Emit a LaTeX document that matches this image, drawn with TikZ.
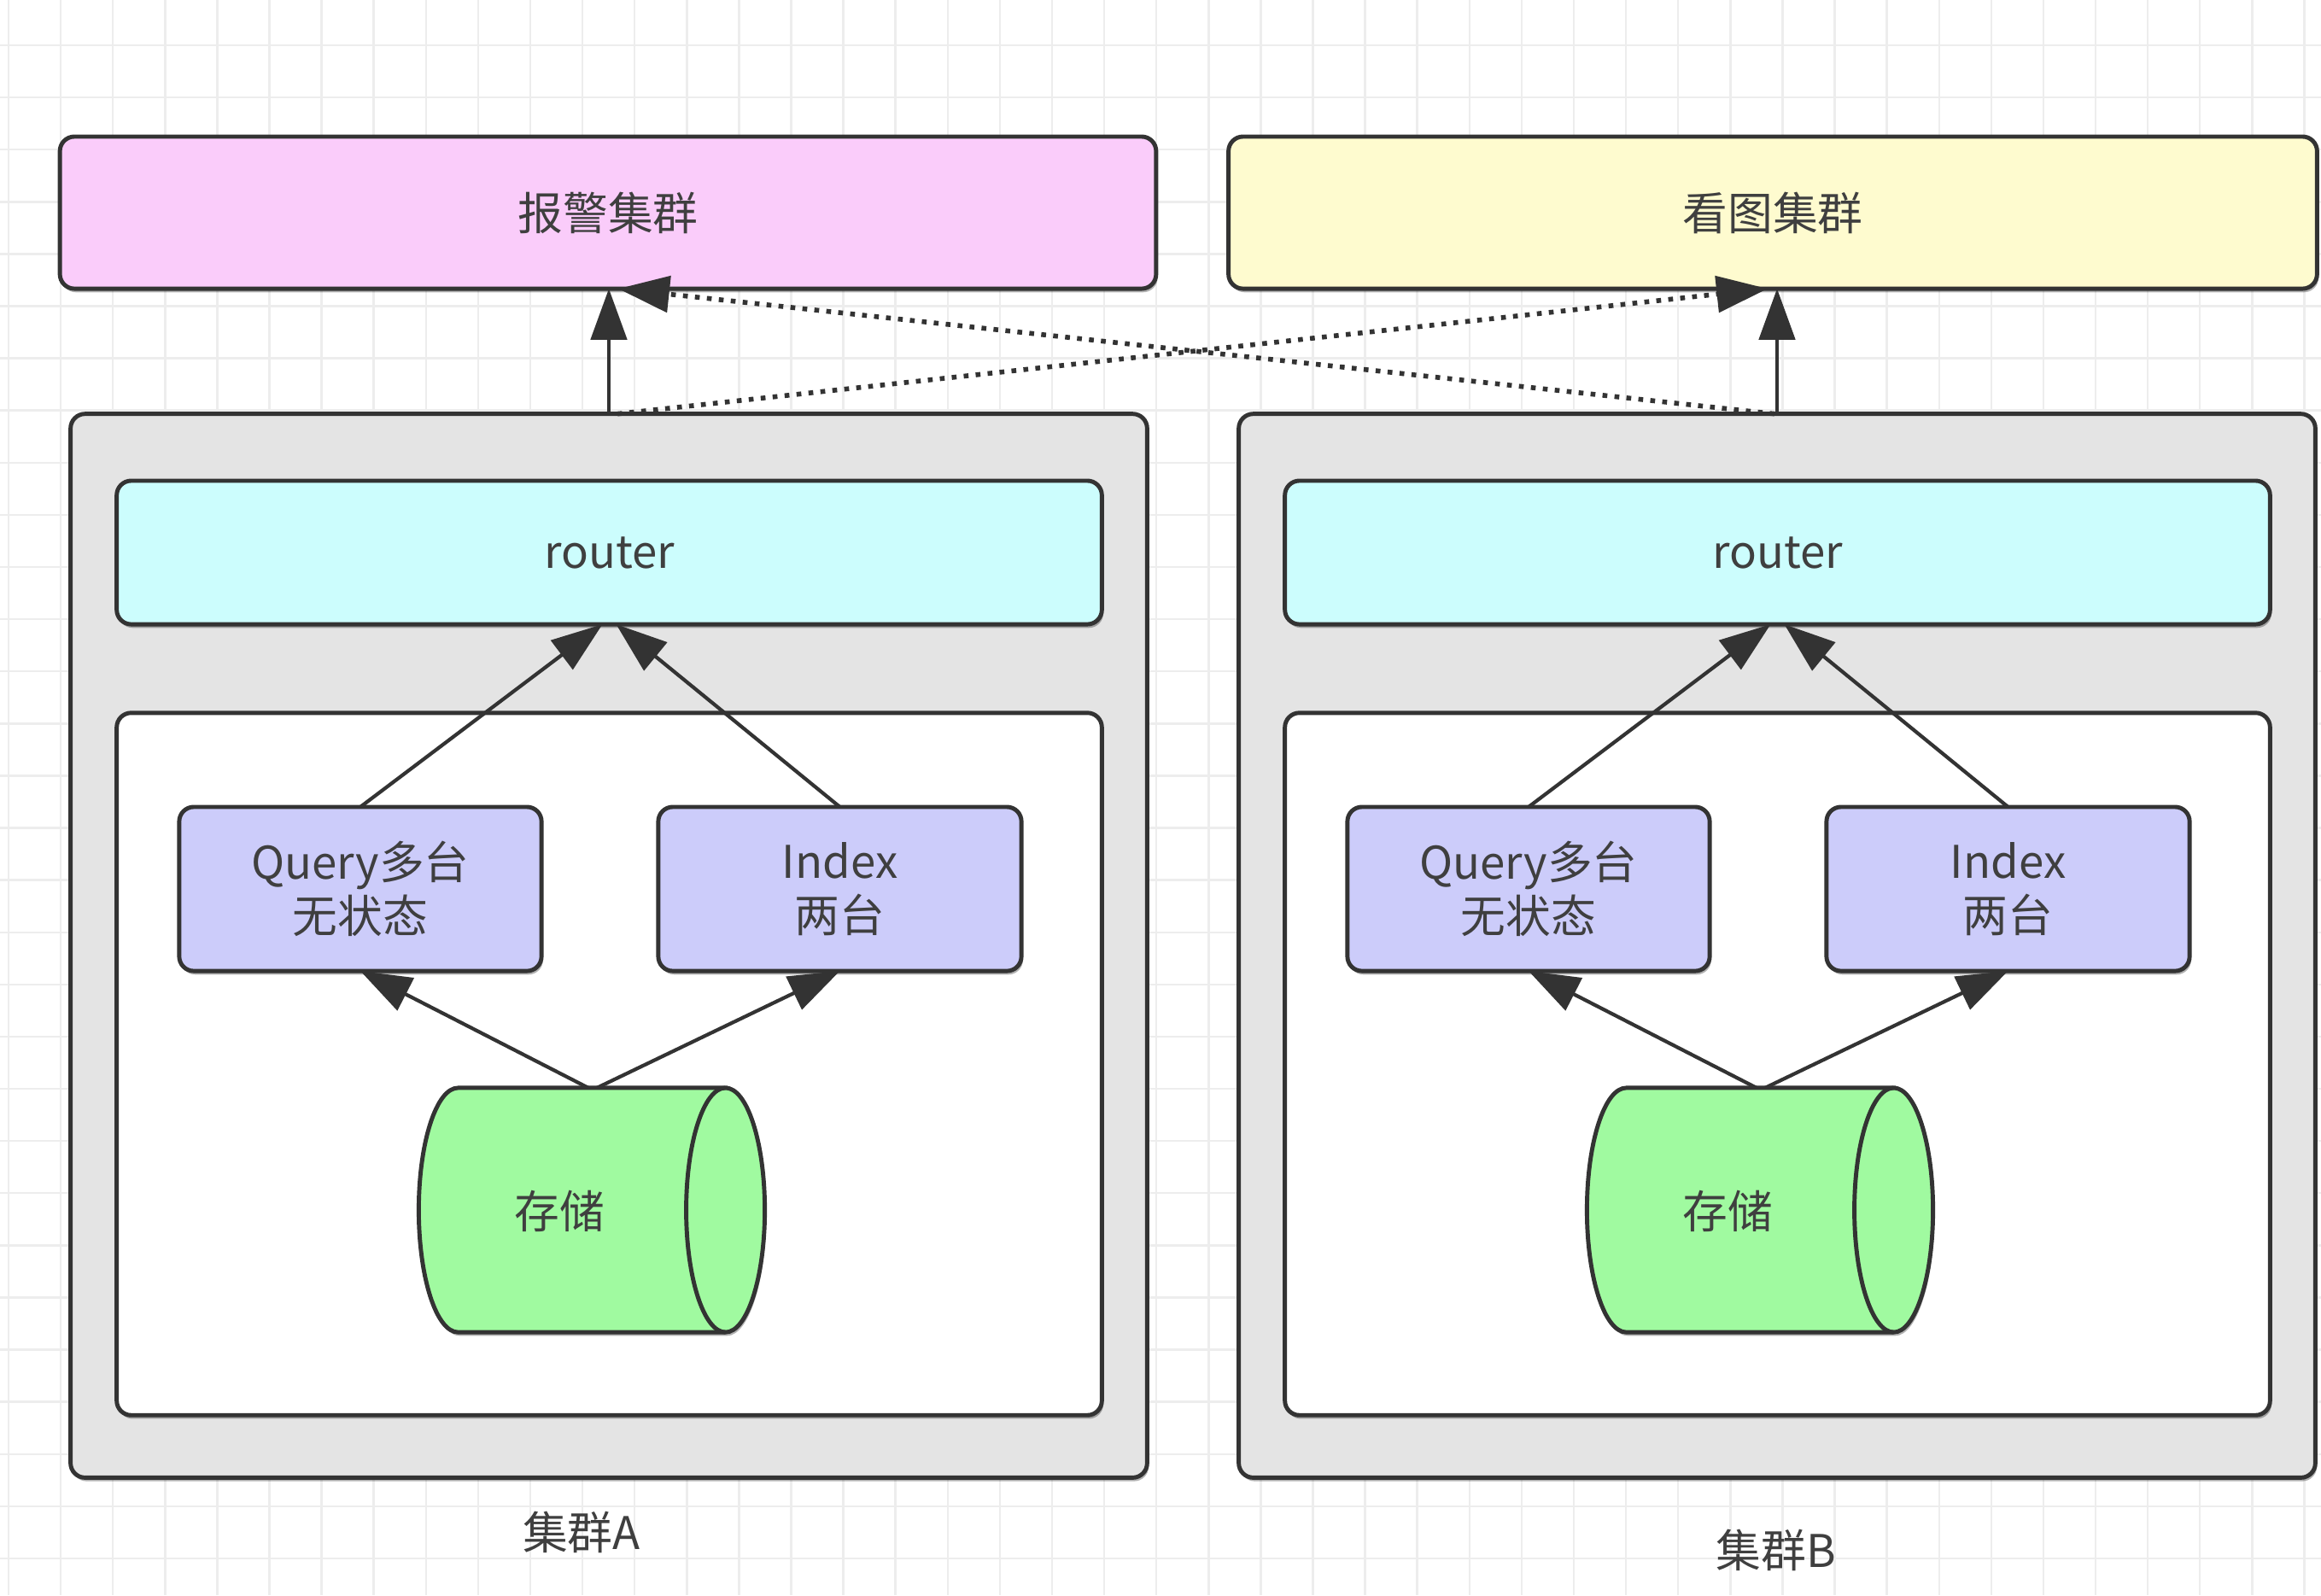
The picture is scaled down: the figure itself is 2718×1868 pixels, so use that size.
\documentclass[tikz,border=0pt]{standalone}
\usepackage{fontspec}
\setmainfont{Noto Sans CJK SC}
\usetikzlibrary{arrows.meta,shadows,calc}
\definecolor{pinkf}{HTML}{FACCFA}
\definecolor{yellowf}{HTML}{FEFBCF}
\definecolor{cyanf}{HTML}{CCFDFD}
\definecolor{grayf}{HTML}{E4E4E4}
\definecolor{lavf}{HTML}{CCCCFA}
\definecolor{greenf}{HTML}{A0FAA0}
\definecolor{strokec}{HTML}{333333}
\definecolor{textc}{HTML}{3F3F3F}
\definecolor{gridc}{HTML}{EDEDED}
\begin{document}
\begin{tikzpicture}[x=0.01cm,y=0.01cm,
  shadowed/.style={drop shadow={shadow xshift=0.5pt, shadow yshift=-1.2pt, opacity=0.3, fill=black}},
  box/.style={draw=strokec, line width=1.4pt, rounded corners=0.17cm, inner sep=0pt, outer sep=0pt,
    font=\fontsize{15}{18}\selectfont, text=textc, align=center, shadowed},
  cylst/.style={draw=strokec, fill=greenf, line width=1.4pt, shadowed},
  lbl/.style={font=\fontsize{15}{18}\selectfont, text=textc, inner sep=0pt},
  conn/.style={draw=strokec, line width=1.2pt, -{Triangle[length=17pt,width=12pt]}},
  dotconn/.style={conn, line width=1.6pt, dash pattern=on 1.6pt off 2.4pt},
]
% background and grid
\fill[white] (0,0) rectangle (2718,-1868);
\useasboundingbox (0,0) rectangle (2718,-1868);
\foreach \i in {0,...,44} \draw[gridc, line width=0.7pt] ({10+61.1*\i},0) -- ({10+61.1*\i},-1868);
\foreach \j in {0,...,30} \draw[gridc, line width=0.7pt] (0,{-(53+61.1*(\j-1))}) -- (2718,{-(53+61.1*(\j-1))});

% top clusters
\node[box, fill=pinkf, minimum width=12.83cm, minimum height=1.78cm] (alarm) at (712,-249) {报警集群};
\node[box, fill=yellowf, minimum width=12.74cm, minimum height=1.78cm] (view) at (2076,-249) {看图集群};

\foreach \n/\dx in {A/0,B/1368}{
  \node[box, fill=grayf, minimum width=12.60cm, minimum height=12.45cm] (outer\n) at ({713+\dx},-1107.5) {};
  \node[box, fill=cyanf, minimum width=11.53cm, minimum height=1.68cm] (router\n) at ({713.5+\dx},-647) {router};
  \node[box, fill=white, minimum width=11.53cm, minimum height=8.22cm] (inner\n) at ({713.5+\dx},-1246) {};
  \node[box, fill=lavf, minimum width=4.24cm, minimum height=1.92cm] (query\n) at ({422+\dx},-1041) {Query多台\\无状态};
  \node[box, fill=lavf, minimum width=4.25cm, minimum height=1.92cm] (index\n) at ({983.5+\dx},-1041) {Index\\两台};
  \node[inner sep=0pt, outer sep=0pt, minimum width=4.05cm, minimum height=2.86cm] (cyl\n) at ({693+\dx},-1417) {};
  \draw[cylst] ([xshift=-0.46cm]cyl\n.north east) -- ([xshift=0.46cm]cyl\n.north west)
     arc[start angle=90,end angle=270,x radius=0.46cm,y radius=1.43cm]
     -- ([xshift=-0.46cm]cyl\n.south east)
     arc[start angle=-90,end angle=90,x radius=0.46cm,y radius=1.43cm] -- cycle;
  \draw[draw=strokec, line width=1.4pt] ([xshift=-0.46cm]cyl\n.north east)
     arc[start angle=90,end angle=270,x radius=0.46cm,y radius=1.43cm];
  \node[lbl] (cyltext\n) at ({655+\dx},-1418) {存储};
  \draw[conn] ([xshift=-0.04cm]cyl\n.north) -- (query\n.south);
  \draw[conn] ([xshift=0.06cm]cyl\n.north) -- (index\n.south);
  \draw[conn] (query\n.north) -- ([xshift=-0.08cm]router\n.south);
  \draw[conn] (index\n.north) -- ([xshift=0.08cm]router\n.south);
}

\node[lbl] (labelA) at (681,-1794) {集群A};
\node[lbl] (labelB) at (2080,-1815) {集群B};

\draw[conn] (outerA.north) -- (outerA.north |- alarm.south);
\draw[conn] (outerB.north) -- (outerB.north |- view.south);
\draw[dotconn] ([xshift=0.1cm]outerA.north) -- ([xshift=-0.06cm]view.south);
\draw[dotconn] ([xshift=-0.03cm]outerB.north) -- ([xshift=0.12cm]alarm.south);
\end{tikzpicture}
\end{document}
